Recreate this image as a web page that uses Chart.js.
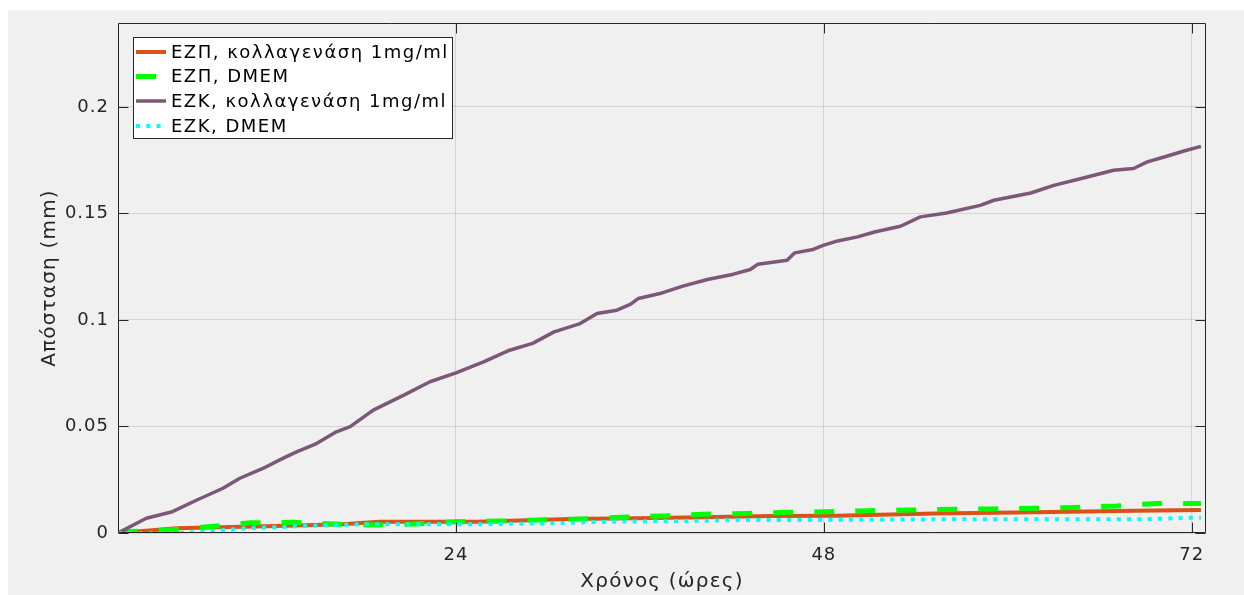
<!DOCTYPE html>
<html>
<head>
<meta charset="utf-8">
<script src="https://cdn.jsdelivr.net/npm/chart.js@4.4.1/dist/chart.umd.min.js"></script>
<style>
  html, body { margin: 0; padding: 0; background: #ffffff; }
  #wrap { width: 1244px; height: 595px; }
</style>
</head>
<body>
<div id="wrap"><canvas id="c" width="1244" height="595"></canvas></div>
<script>
// Series labels
const seriesLabels = [
  'ΕΖΠ, κολλαγενάση 1mg/ml',
  'ΕΖΠ, DMEM',
  'ΕΖΚ, κολλαγενάση 1mg/ml',
  'ΕΖΚ, DMEM'
];

// ΕΖΠ, κολλαγενάση 1mg/ml
const hoursEzpColl = [1.95, 5.8, 8.6, 12.3, 16.6, 19.0, 23.2, 25.4, 31.4, 35.8, 40.1, 44.5, 48.8, 55.2, 61.8, 68.3, 72.6];
const distEzpColl  = [0, 0.0022, 0.0027, 0.0033, 0.0041, 0.0053, 0.0053, 0.0053, 0.0066, 0.0069, 0.0074, 0.0080, 0.0081, 0.0092, 0.0097, 0.0105, 0.0108];

// ΕΖΠ, DMEM
const hoursEzpDmem = [1.95, 2.4, 5.2, 8.0, 10.6, 13.3, 16.0, 18.7, 21.3, 24.0, 26.8, 29.5, 32.2, 34.8, 37.5, 40.1, 42.9, 45.5, 48.2, 50.9, 53.6, 56.3, 59.1, 61.8, 64.4, 67.1, 69.8, 72.2, 72.6];
const distEzpDmem  = [0, 0.0006, 0.0014, 0.0030, 0.0048, 0.0050, 0.0042, 0.0038, 0.0042, 0.0053, 0.0056, 0.0061, 0.0066, 0.0074, 0.0080, 0.0088, 0.0092, 0.0097, 0.0100, 0.0105, 0.0108, 0.0111, 0.0113, 0.0116, 0.0120, 0.0127, 0.0139, 0.0139, 0.0139];

// ΕΖΚ, κολλαγενάση 1mg/ml
const hoursEzkColl = [1.95, 3.8, 5.5, 7.1, 8.8, 9.9, 11.4, 12.7, 13.6, 14.9, 16.2, 17.1, 18.6, 20.6, 22.3, 24.0, 25.8, 27.5, 29.0, 30.4, 32.1, 33.2, 34.5, 35.4, 35.9, 37.3, 38.8, 40.4, 42.1, 43.2, 43.7, 45.6, 46.1, 47.3, 48.0, 48.9, 50.2, 51.3, 53.0, 54.3, 56.0, 58.2, 59.1, 61.5, 63.0, 64.8, 66.9, 68.2, 69.1, 70.2, 71.5, 72.6];
const distEzkColl  = [0, 0.0069, 0.0100, 0.0155, 0.0210, 0.0257, 0.0303, 0.0350, 0.0381, 0.0420, 0.0475, 0.0499, 0.0577, 0.0647, 0.0710, 0.0752, 0.0803, 0.0858, 0.0890, 0.0944, 0.0983, 0.1030, 0.1046, 0.1074, 0.1101, 0.1124, 0.1159, 0.1190, 0.1215, 0.1237, 0.1262, 0.1280, 0.1315, 0.1331, 0.1351, 0.1371, 0.1390, 0.1413, 0.1440, 0.1484, 0.1502, 0.1538, 0.1562, 0.1596, 0.1632, 0.1664, 0.1703, 0.1711, 0.1742, 0.1765, 0.1793, 0.1815];

// ΕΖΚ, DMEM
const hoursEzkDmem = [1.95, 4.9, 7.0, 10.3, 14.6, 17.9, 21.2, 25.4, 29.8, 34.1, 38.5, 42.8, 47.2, 49.4, 55.2, 61.8, 68.3, 72.1, 72.6];
const distEzkDmem  = [0, -0.0002, 0.0003, 0.0022, 0.0034, 0.0041, 0.0041, 0.0041, 0.0045, 0.0053, 0.0056, 0.0061, 0.0061, 0.0062, 0.0064, 0.0064, 0.0064, 0.0072, 0.0072];

// Axis ticks
const xTicks = [24, 48, 72];
const yTicks = [0, 0.05, 0.1, 0.15, 0.2];
const xTitle = 'Χρόνος (ώρες)';
const yTitle = 'Απόσταση (mm)';

const FONT = "'DejaVu Sans', 'Noto Sans', sans-serif";

function pts(xs, ys) { return xs.map((x, i) => ({ x: x, y: ys[i] })); }

const styles = [
  { color: '#D95319', width: 4, dash: [] },
  { color: '#00FF00', width: 5, dash: [20, 21] },
  { color: '#7B5877', width: 3.5, dash: [] },
  { color: '#00FFFF', width: 4, dash: [4, 6.3] }
];

const seriesData = [
  pts(hoursEzpColl, distEzpColl),
  pts(hoursEzpDmem, distEzpDmem),
  pts(hoursEzkColl, distEzkColl),
  pts(hoursEzkDmem, distEzkDmem)
];
// later series are painted on top
const drawOrder = [3, 2, 1, 0];

const datasets = seriesData.map((d, i) => ({
  label: seriesLabels[i],
  data: d,
  borderColor: styles[i].color,
  backgroundColor: styles[i].color,
  borderWidth: styles[i].width,
  borderDash: styles[i].dash,
  borderCapStyle: 'butt',
  borderJoinStyle: 'round',
  pointRadius: 0,
  tension: 0,
  fill: false,
  order: drawOrder[i]
}));

// figure background, axes frame, inward ticks, titles and legend
const frame = {
  id: 'frame',
  beforeDraw(chart) {
    const ctx = chart.ctx;
    ctx.save();
    ctx.fillStyle = '#ffffff';
    ctx.fillRect(0, 0, chart.width, chart.height);
    ctx.fillStyle = '#f0f0f0';
    ctx.fillRect(8, 10, chart.width - 8, chart.height - 10);
    ctx.restore();
    // slightly wider tracking for the tick labels
    ctx.letterSpacing = '1px';
  },
  afterDatasetsDraw(chart) {
    const ctx = chart.ctx;
    const a = chart.chartArea;
    const xs = chart.scales.x, ys = chart.scales.y;
    const L = Math.round(a.left) + 0.5, R = Math.round(a.right) - 0.5;
    const T = Math.round(a.top) + 0.5, B = Math.round(a.bottom) - 0.5;
    ctx.save();
    ctx.lineWidth = 1;
    ctx.strokeStyle = '#262626';
    ctx.beginPath();
    ctx.moveTo(L, T); ctx.lineTo(L, B); ctx.lineTo(R, B); ctx.lineTo(R, T); ctx.lineTo(L, T);
    ctx.stroke();
    const tl = 10;
    ctx.beginPath();
    yTicks.forEach(v => {
      const y = Math.round(ys.getPixelForValue(v)) + 0.5;
      ctx.moveTo(L, y); ctx.lineTo(L + tl, y);
      ctx.moveTo(R, y); ctx.lineTo(R - tl, y);
    });
    xTicks.forEach(v => {
      const x = Math.round(xs.getPixelForValue(v)) + 0.5;
      ctx.moveTo(x, B); ctx.lineTo(x, B - tl);
      ctx.moveTo(x, T); ctx.lineTo(x, T + tl);
    });
    ctx.stroke();

    // axis titles
    ctx.fillStyle = '#262626';
    ctx.font = '20px ' + FONT;
    ctx.letterSpacing = '1.2px';
    ctx.textAlign = 'center';
    ctx.textBaseline = 'alphabetic';
    ctx.fillText(xTitle, (a.left + a.right) / 2, 587);
    ctx.save();
    ctx.translate(55, (a.top + a.bottom) / 2);
    ctx.rotate(-Math.PI / 2);
    ctx.fillText(yTitle, 0, 0);
    ctx.restore();

    // legend
    const bx = 133.5, by = 37.5, bw = 319, bh = 101;
    ctx.fillStyle = '#ffffff';
    ctx.fillRect(bx, by, bw, bh);
    ctx.strokeStyle = '#262626';
    ctx.lineWidth = 1;
    ctx.strokeRect(bx, by, bw, bh);
    const rows = [52, 76.5, 101, 126];
    ctx.font = '18px ' + FONT;
    ctx.letterSpacing = '1.5px';
    ctx.textAlign = 'left';
    ctx.textBaseline = 'middle';
    seriesLabels.forEach((lab, i) => {
      const y = rows[i];
      ctx.save();
      ctx.strokeStyle = styles[i].color;
      ctx.lineWidth = styles[i].width;
      ctx.setLineDash(styles[i].dash);
      ctx.lineCap = 'butt';
      ctx.beginPath();
      ctx.moveTo(136, y); ctx.lineTo(166, y);
      ctx.stroke();
      ctx.restore();
      ctx.fillStyle = '#000000';
      ctx.fillText(lab, 171, y + 1);
    });
    ctx.restore();
  }
};

new Chart(document.getElementById('c'), {
  type: 'line',
  data: { datasets: datasets },
  options: {
    responsive: false,
    animation: false,
    devicePixelRatio: 1,
    layout: { padding: { left: 0, right: 38, top: 23, bottom: 0 } },
    plugins: {
      legend: { display: false },
      tooltip: { enabled: false }
    },
    scales: {
      x: {
        type: 'linear',
        min: 1.95,
        max: 72.93,
        afterBuildTicks(scale) { scale.ticks = xTicks.map(v => ({ value: v })); },
        afterFit(scale) { scale.height = 62; },
        grid: { color: 'rgba(0,0,0,0.11)', lineWidth: 1, drawTicks: false },
        border: { display: false },
        ticks: {
          padding: 12,
          color: '#262626',
          font: { family: FONT, size: 18 },
          maxRotation: 0,
          callback: v => String(v)
        }
      },
      y: {
        type: 'linear',
        min: 0,
        max: 0.2394,
        afterBuildTicks(scale) { scale.ticks = yTicks.map(v => ({ value: v })); },
        afterFit(scale) { scale.width = 118; },
        grid: { color: 'rgba(0,0,0,0.11)', lineWidth: 1, drawTicks: false },
        border: { display: false },
        ticks: {
          padding: 9,
          color: '#262626',
          font: { family: FONT, size: 18 },
          callback: v => String(parseFloat(v.toFixed(2)))
        }
      }
    }
  },
  plugins: [frame]
});
</script>
</body>
</html>
